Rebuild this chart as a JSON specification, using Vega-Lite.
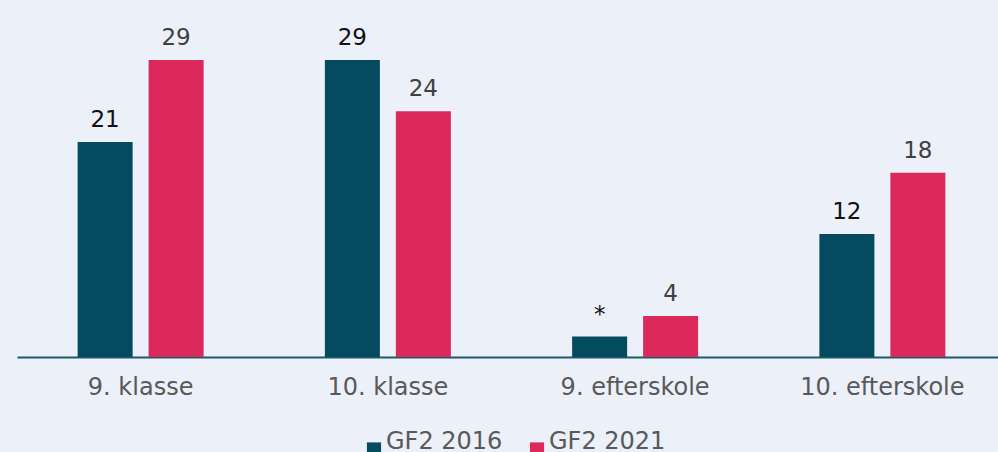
{
  "$schema": "https://vega.github.io/schema/vega-lite/v6.json",
  "autosize": {"type": "none"},
  "padding": {"left": 17, "top": 60, "right": 0, "bottom": 95},
  "width": 989,
  "height": 297,
  "background": "#ECF0F9",
  "config": {
    "view": {"stroke": null},
    "font": "DejaVu Sans"
  },
  "data": {
    "values": [
      {"cat": "9. klasse", "series": "GF2 2016", "value": 21, "label": "21"},
      {"cat": "9. klasse", "series": "GF2 2021", "value": 29, "label": "29"},
      {"cat": "10. klasse", "series": "GF2 2016", "value": 29, "label": "29"},
      {"cat": "10. klasse", "series": "GF2 2021", "value": 24, "label": "24"},
      {"cat": "9. efterskole", "series": "GF2 2016", "value": 2, "label": "*"},
      {"cat": "9. efterskole", "series": "GF2 2021", "value": 4, "label": "4"},
      {"cat": "10. efterskole", "series": "GF2 2016", "value": 12, "label": "12"},
      {"cat": "10. efterskole", "series": "GF2 2021", "value": 18, "label": "18"}
    ]
  },
  "encoding": {
    "x": {
      "field": "cat", "type": "nominal", "sort": null,
      "scale": {"paddingInner": 0, "paddingOuter": 0},
      "axis": {
        "title": null, "labelAngle": 0, "ticks": false, "grid": false,
        "domainColor": "#1B5A6C", "domainWidth": 2,
        "labelFontSize": 24, "labelColor": "#595959", "labelPadding": 18
      }
    },
    "xOffset": {
      "field": "series", "type": "nominal",
      "scale": {"paddingInner": 0.225, "paddingOuter": 0.854}
    },
    "y": {
      "field": "value", "type": "quantitative",
      "scale": {"domain": [0, 29], "nice": false},
      "axis": null
    }
  },
  "layer": [
    {
      "mark": {"type": "bar"},
      "encoding": {
        "color": {
          "field": "series", "type": "nominal",
          "scale": {"domain": ["GF2 2016", "GF2 2021"], "range": ["#044B5F", "#DC295B"]},
          "legend": {
            "title": null, "orient": "none", "direction": "horizontal",
            "legendX": 345, "legendY": 377,
            "symbolType": "square", "symbolSize": 200, "symbolStrokeWidth": 0,
            "labelFontSize": 24, "labelColor": "#595959", "labelOffset": 0,
            "labelBaseline": "alphabetic",
            "columnPadding": 22, "padding": 0
          }
        }
      }
    },
    {
      "mark": {"type": "text", "baseline": "alphabetic", "dy": -15, "fontSize": 23},
      "encoding": {
        "text": {"field": "label"},
        "color": {
          "condition": {"test": "datum.series === 'GF2 2016'", "value": "#111111"},
          "value": "#404040"
        }
      }
    }
  ]
}
